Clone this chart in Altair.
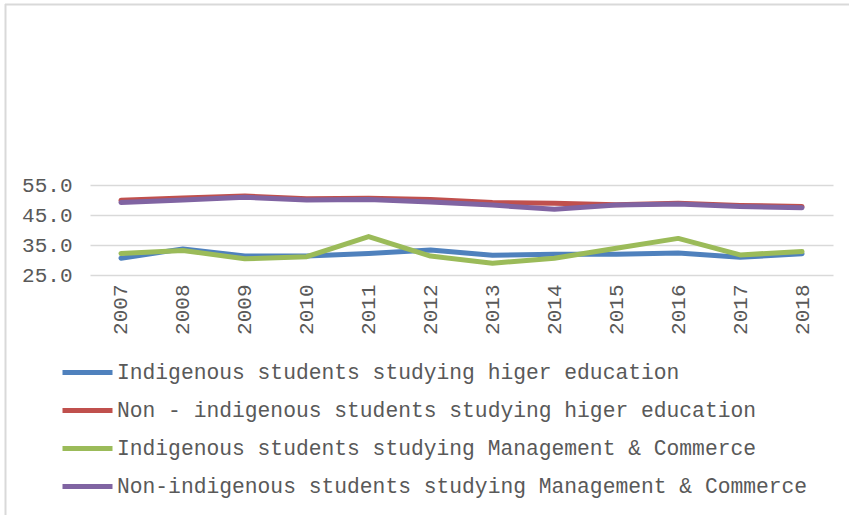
import altair as alt
import pandas as pd

years = ["2007", "2008", "2009", "2010", "2011", "2012", "2013", "2014", "2015", "2016", "2017", "2018"]
series_names = [
    "Indigenous students studying higer education",
    "Non - indigenous students studying higer education",
    "Indigenous students studying Management & Commerce",
    "Non-indigenous students studying Management & Commerce",
]
indig_higher = [30.6, 33.7, 31.3, 31.3, 32.2, 33.3, 31.6, 31.9, 31.9, 32.3, 30.9, 32.1]
non_indig_higher = [49.9, 50.7, 51.3, 50.4, 50.6, 50.2, 49.2, 48.9, 48.4, 48.9, 48.2, 47.8]
indig_mc = [32.2, 33.2, 30.4, 31.1, 37.8, 31.3, 28.9, 30.6, 33.9, 37.2, 31.7, 32.8]
non_indig_mc = [49.2, 50.0, 50.9, 50.0, 50.2, 49.3, 48.3, 46.9, 48.3, 48.7, 47.8, 47.4]
colors = ["#4f81bd", "#c0504d", "#9bbb59", "#8064a2"]

rows = []
for i, (name, vals) in enumerate(zip(series_names, [indig_higher, non_indig_higher, indig_mc, non_indig_mc])):
    for y, v in zip(years, vals):
        rows.append({"year": y, "value": v, "series": name, "order": i})
df = pd.DataFrame(rows)

FONT = "Courier New, Liberation Mono, monospace"
TXT = "#595959"

lines = alt.Chart(df).mark_line(strokeWidth=5, strokeCap="round", strokeJoin="round").encode(
    x=alt.X("year:N", sort=years, title=None,
            scale=alt.Scale(type="point", padding=0.5),
            axis=alt.Axis(labelAngle=-90, labelFontSize=21, labelFont=FONT, labelColor=TXT,
                          ticks=False, domain=False, grid=False, labelPadding=9, labelBaseline="middle")),
    y=alt.Y("value:Q", title=None,
            scale=alt.Scale(domain=[25, 55], nice=False, zero=False),
            axis=alt.Axis(values=[25, 35, 45, 55], format=".1f", labelFontSize=21, labelFont=FONT,
                          labelColor=TXT, ticks=False, domain=False, gridColor="#d9d9d9",
                          gridWidth=1.5, labelPadding=18)),
    color=alt.Color("series:N", sort=series_names, title=None,
                    scale=alt.Scale(domain=series_names, range=colors),
                    legend=alt.Legend(orient="none", legendX=-30, legendY=160, direction="vertical",
                                      symbolType="stroke", symbolSize=2500, symbolStrokeWidth=5,
                                      labelFontSize=21.3, labelFont=FONT, labelColor=TXT,
                                      labelOffset=2, rowPadding=-12, labelLimit=800)),
    order=alt.Order("order:Q"),
    detail="series:N",
)

frame = pd.DataFrame([{"k": 0}])
top_border = alt.Chart(frame).mark_rule(color="#d9d9d9", strokeWidth=2).encode(
    x=alt.value(-85), x2=alt.value(760), y=alt.value(-180.5))
left_border = alt.Chart(frame).mark_rule(color="#d9d9d9", strokeWidth=2).encode(
    x=alt.value(-84.5), y=alt.value(-181), y2=alt.value(330))

chart = alt.layer(top_border, left_border, lines).properties(
    width=743, height=90,
    autosize=alt.AutoSizeParams(type="none"),
    padding={"left": 90, "top": 185, "right": 16, "bottom": 240},
    background="white",
).configure_view(stroke=None)

chart.save("out.html", embed_options={"renderer": "svg", "actions": False})
